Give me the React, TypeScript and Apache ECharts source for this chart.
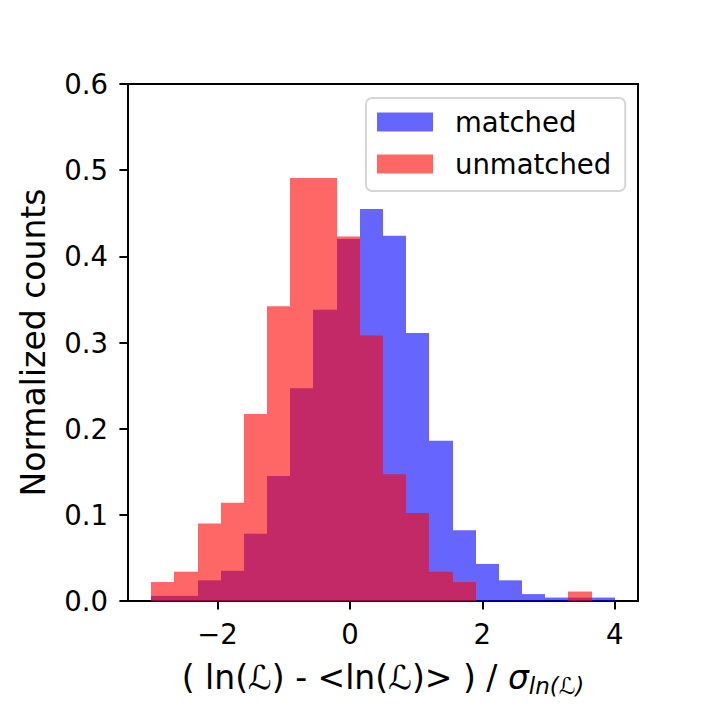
import React, { useEffect, useRef } from "react";
import * as echarts from "echarts";

const BIN_LEFT = [-3.0, -2.65, -2.3, -1.95, -1.6, -1.25, -0.9, -0.55, -0.2, 0.15, 0.5, 0.85, 1.2, 1.55, 1.9, 2.25, 2.6, 2.95, 3.3, 3.65];
const BIN_RIGHT = [-2.65, -2.3, -1.95, -1.6, -1.25, -0.9, -0.55, -0.2, 0.15, 0.5, 0.85, 1.2, 1.55, 1.9, 2.25, 2.6, 2.95, 3.3, 3.65, 4.0];
const MATCHED = [0.006, 0.006, 0.024, 0.035, 0.078, 0.145, 0.247, 0.338, 0.42, 0.455, 0.424, 0.311, 0.186, 0.082, 0.043, 0.024, 0.008, 0.004, 0.004, 0.004];
const UNMATCHED = [0.022, 0.034, 0.09, 0.114, 0.217, 0.342, 0.491, 0.491, 0.423, 0.308, 0.147, 0.102, 0.034, 0.022, 0, 0, 0, 0, 0.011, 0];
const X_TICKS = [-2, 0, 2, 4];
const SERIES_NAMES = ["matched", "unmatched"];
const BLUE = "rgba(0,0,255,0.6)";
const RED = "rgba(255,0,0,0.6)";
const FONT = "DejaVu Sans";

function histData(values: number[]) {
  return values.map((v, i) => [BIN_LEFT[i], BIN_RIGHT[i], v]);
}

function renderBar(params: any, api: any) {
  const v = api.value(2);
  if (!v) return null;
  const p0 = api.coord([api.value(0), v]);
  const p1 = api.coord([api.value(1), 0]);
  const x0 = Math.round(p0[0]);
  const x1 = Math.round(p1[0]);
  return {
    type: "rect",
    shape: { x: x0, y: p0[1], width: x1 - x0, height: p1[1] - p0[1] },
    style: { fill: api.visual("color") },
  };
}

export default function App() {
  const ref = useRef<HTMLDivElement>(null);
  useEffect(() => {
    const chart = echarts.init(ref.current!, null, { renderer: "svg" });
    chart.setOption({
      animation: false,
      backgroundColor: "#fff",
      textStyle: { fontFamily: FONT },
      grid: { left: 128, top: 84, width: 510, height: 517, show: true, borderColor: "#000", borderWidth: 2, backgroundColor: "transparent" },
      legend: {
        orient: "vertical",
        left: 366,
        top: 98,
        data: [
          { name: SERIES_NAMES[0], icon: "rect", itemStyle: { color: BLUE } },
          { name: SERIES_NAMES[1], icon: "rect", itemStyle: { color: RED } },
        ],
        itemWidth: 56,
        itemHeight: 19,
        itemGap: 10,
        padding: [8, 14, 11, 11],
        backgroundColor: "rgba(255,255,255,0.8)",
        borderColor: "#d6d6d6",
        borderWidth: 2,
        borderRadius: 6,
        textStyle: { fontFamily: FONT, fontSize: 27.5, color: "#000", lineHeight: 32, padding: [0, 0, 0, 17] },
      },
      xAxis: {
        type: "value",
        min: -3.35,
        max: 4.35,
        splitLine: { show: false },
        axisLine: { show: true, onZero: false, lineStyle: { color: "#000", width: 2 } },
        axisTick: { show: true, customValues: X_TICKS, length: 8.6, lineStyle: { color: "#000", width: 2 } },
        axisLabel: {
          customValues: X_TICKS,
          margin: 19,
          fontFamily: FONT,
          fontSize: 27.5,
          color: "#000",
          formatter: (v: number) => (v < 0 ? "\u2212" + Math.abs(v) : String(v)),
        },
        name: "{a|( ln(ℒ) - <ln(ℒ)> ) / }{s|σ}{sub|ln(ℒ)}",
        nameLocation: "middle",
        nameGap: 56,
        nameTextStyle: {
          rich: {
            a: { fontFamily: FONT, fontSize: 33, color: "#000", lineHeight: 40, verticalAlign: "middle" },
            s: { fontFamily: FONT, fontSize: 33, color: "#000", fontStyle: "italic", lineHeight: 40, verticalAlign: "middle" },
            sub: { fontFamily: FONT, fontSize: 23, color: "#000", fontStyle: "italic", lineHeight: 26, verticalAlign: "bottom" },
          },
        },
      },
      yAxis: {
        type: "value",
        min: 0,
        max: 0.6,
        interval: 0.1,
        splitLine: { show: false },
        axisLine: { show: true, onZero: false, lineStyle: { color: "#000", width: 2 } },
        axisTick: { show: true, length: 8.6, lineStyle: { color: "#000", width: 2 } },
        axisLabel: {
          margin: 20,
          fontFamily: FONT,
          fontSize: 27.5,
          color: "#000",
          formatter: (v: number) => v.toFixed(1),
        },
        name: "Normalized counts",
        nameLocation: "middle",
        nameGap: 78,
        nameTextStyle: { fontFamily: FONT, fontSize: 33, color: "#000" },
      },
      series: [
        {
          name: SERIES_NAMES[0],
          type: "custom",
          renderItem: renderBar,
          itemStyle: { color: BLUE },
          encode: { x: [0, 1], y: 2 },
          data: histData(MATCHED),
          z: 1,
        },
        {
          name: SERIES_NAMES[1],
          type: "custom",
          renderItem: renderBar,
          itemStyle: { color: RED },
          encode: { x: [0, 1], y: 2 },
          data: histData(UNMATCHED),
          z: 2,
        },
      ],
    });
    return () => chart.dispose();
  }, []);
  return <div ref={ref} style={{ position: "fixed", left: 0, top: 0, width: 708, height: 708 }} />;
}
